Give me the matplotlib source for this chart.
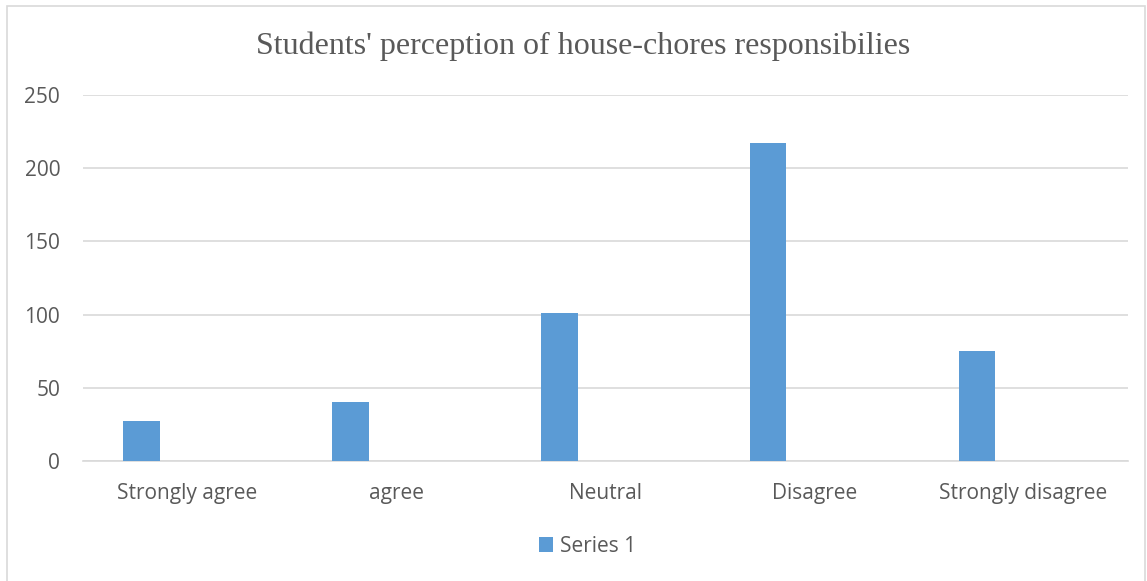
import matplotlib.pyplot as plt
import numpy as np
from matplotlib.patches import Rectangle

categories = ["Strongly agree", "agree", "Neutral", "Disagree", "Strongly disagree"]
series1 = [27, 40, 101, 217, 75]
yticks = [0, 50, 100, 150, 200, 250]

text_color = "#595959"
grid_color = "#d9d9d9"
bar_color = "#5b9bd5"

fig = plt.figure(figsize=(11.47, 5.81), dpi=100)
ax = fig.add_axes([0.0724, 0.2065, 0.9106, 0.63])

x = np.arange(len(categories))
ax.bar(x - 0.22, series1, width=0.175, color=bar_color, label="Series 1", zorder=3)

ax.set_xlim(-0.5, len(categories) - 0.5)
ax.set_ylim(0, 250)
ax.set_yticks(yticks)
ax.set_xticks(x)
ax.set_xticklabels(categories)
ax.grid(axis="y", color=grid_color, linewidth=1.2, zorder=0)
for side in ["left", "right", "top"]:
    ax.spines[side].set_visible(False)
ax.spines["bottom"].set_color(grid_color)
ax.spines["bottom"].set_linewidth(1.2)
ax.tick_params(axis="both", length=0, labelsize=15, labelcolor=text_color,
               labelfontfamily="Open Sans")
ax.tick_params(axis="y", pad=16.5)
ax.tick_params(axis="x", pad=16)

fig.text(0.508, 0.921, "Students' perception of house-chores responsibilies",
         ha="center", va="center", fontsize=23, color=text_color,
         family="Liberation Serif")

leg = fig.legend(loc="center", bbox_to_anchor=(0.512, 0.06), frameon=False,
                 prop={"family": "Open Sans", "size": 15},
                 handlelength=0.7, handleheight=0.7, handletextpad=0.3)
for t in leg.get_texts():
    t.set_color(text_color)

fig.patches.append(Rectangle((0.006, -0.01), 0.992, 1.0, transform=fig.transFigure,
                             fill=False, edgecolor=grid_color, linewidth=1.2))

fig.savefig("out.png", dpi=100)
